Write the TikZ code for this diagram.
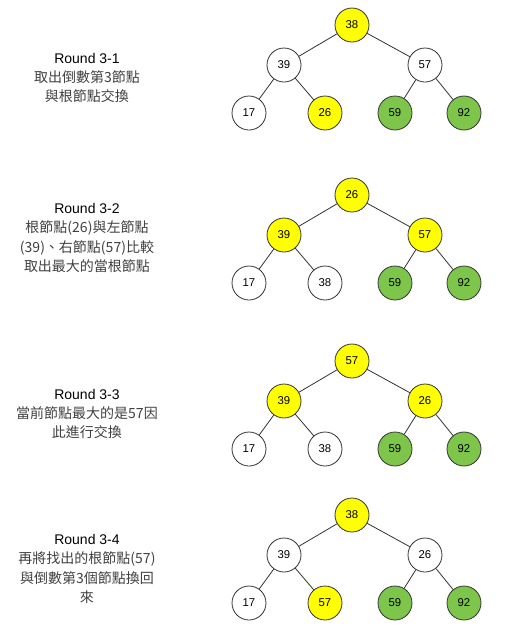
\documentclass[tikz,border=0pt]{standalone}
\usepackage{fontspec}
\setmainfont{Liberation Sans}
\newfontfamily\cjk{Noto Sans CJK TC}
\usepackage{tikz}
\definecolor{heapgreen}{RGB}{126,197,75}
\definecolor{heapyellow}{RGB}{255,255,0}

\begin{document}
\begin{tikzpicture}[x=0.75pt, y=-0.75pt,
		key/.style={circle, draw=black!80, line width=0.6pt, minimum size=25.5pt, inner sep=0pt, font=\fontsize{8.5}{10}\selectfont},
		wkey/.style={key, fill=white},
		ykey/.style={key, fill=heapyellow},
		gkey/.style={key, fill=heapgreen},
		caption/.style={align=center, font=\fontsize{10.5}{14.6}\selectfont},
		link/.style={draw=black!80, line width=0.6pt}]
		\useasboundingbox (0,0) rectangle (505,637);
		% Round 3-1
		\node[caption] (T1) at (87,78) {Round 3-1\\{\cjk\color{black!75}取出倒數第3節點}\\{\cjk\color{black!75}與根節點交換}};
		\node[ykey] (A1) at (352,25) {38};
		\node[wkey] (B1) at (284,65) {39};
		\node[wkey] (C1) at (425,65) {57};
		\node[wkey] (D1) at (249,113) {17};
		\node[ykey] (E1) at (325,113) {26};
		\node[gkey] (F1) at (395,113) {59};
		\node[gkey] (G1) at (464,113) {92};
		\draw[link] (A1) -- (B1) (A1) -- (C1) (B1) -- (D1) (B1) -- (E1) (C1) -- (F1) (C1) -- (G1);
		% Round 3-2
		\node[caption] (T2) at (87,238) {Round 3-2\\{\cjk\color{black!75}根節點(26)與左節點}\\{\cjk\color{black!75}(39)、右節點(57)比較}\\{\cjk\color{black!75}取出最大的當根節點}};
		\node[ykey] (A2) at (352,195) {26};
		\node[ykey] (B2) at (284,235) {39};
		\node[ykey] (C2) at (425,235) {57};
		\node[wkey] (D2) at (249,283) {17};
		\node[wkey] (E2) at (325,283) {38};
		\node[gkey] (F2) at (395,283) {59};
		\node[gkey] (G2) at (464,283) {92};
		\draw[link] (A2) -- (B2) (A2) -- (C2) (B2) -- (D2) (B2) -- (E2) (C2) -- (F2) (C2) -- (G2);
		% Round 3-3
		\node[caption] (T3) at (87,414) {Round 3-3\\{\cjk\color{black!75}當前節點最大的是57因}\\{\cjk\color{black!75}此進行交換}};
		\node[ykey] (A3) at (352,361) {57};
		\node[ykey] (B3) at (284,401) {39};
		\node[ykey] (C3) at (425,401) {26};
		\node[wkey] (D3) at (249,449) {17};
		\node[wkey] (E3) at (325,449) {38};
		\node[gkey] (F3) at (395,449) {59};
		\node[gkey] (G3) at (464,449) {92};
		\draw[link] (A3) -- (B3) (A3) -- (C3) (B3) -- (D3) (B3) -- (E3) (C3) -- (F3) (C3) -- (G3);
		% Round 3-4
		\node[caption] (T4) at (87,569) {Round 3-4\\{\cjk\color{black!75}再將找出的根節點(57)}\\{\cjk\color{black!75}與倒數第3個節點換回}\\{\cjk\color{black!75}來}};
		\node[ykey] (A4) at (352,515) {38};
		\node[wkey] (B4) at (284,555) {39};
		\node[wkey] (C4) at (425,555) {26};
		\node[wkey] (D4) at (249,603) {17};
		\node[ykey] (E4) at (325,603) {57};
		\node[gkey] (F4) at (395,603) {59};
		\node[gkey] (G4) at (464,603) {92};
		\draw[link] (A4) -- (B4) (A4) -- (C4) (B4) -- (D4) (B4) -- (E4) (C4) -- (F4) (C4) -- (G4);
\end{tikzpicture}
\end{document}
